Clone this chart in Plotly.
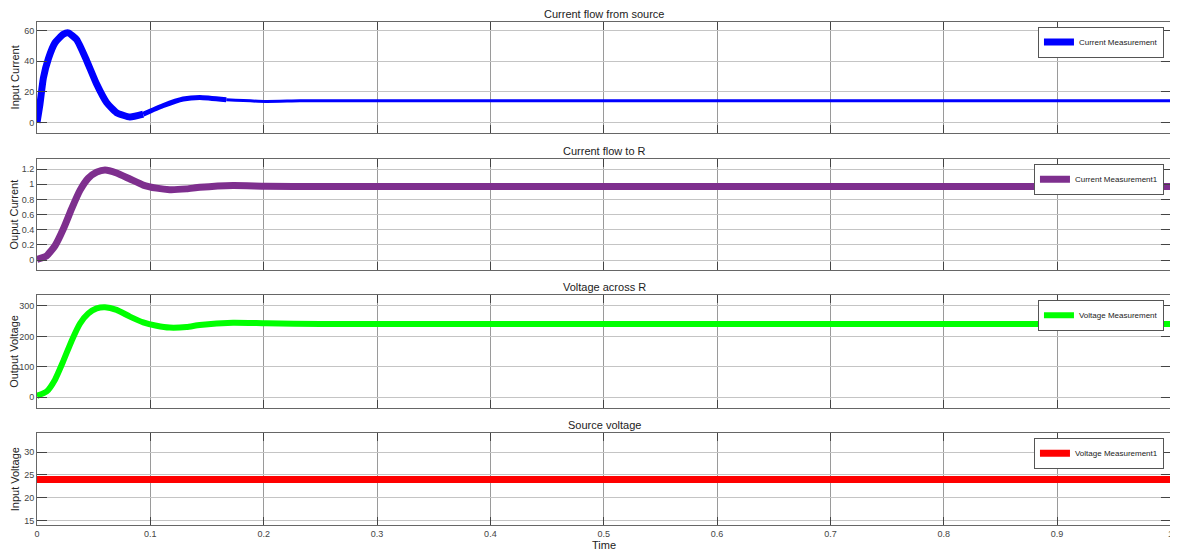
import plotly.graph_objects as go

# ---- data ----
t_src = [0, 0.0026, 0.0056, 0.01, 0.0159, 0.0232, 0.0276, 0.035, 0.0438, 0.0526, 0.0614,
         0.0702, 0.082, 0.0937, 0.111, 0.129, 0.1436, 0.167, 0.202, 0.232, 0.3, 0.4, 0.5,
         0.6, 0.7, 0.8, 0.9, 1.0]
i_src = [0, 12, 29, 41.5, 52, 57.5, 58.4, 54, 40.4, 25.1, 13.1, 6.5, 3.7, 5.5, 11, 15.4,
         16.4, 14.9, 13.8, 14.2, 14.3, 14.3, 14.3, 14.3, 14.3, 14.3, 14.3, 14.3]

t_out = [0, 0.0085, 0.0159, 0.0232, 0.0306, 0.0379, 0.0452, 0.0526, 0.06, 0.0702, 0.082,
         0.0937, 0.1055, 0.117, 0.132, 0.1436, 0.173, 0.202, 0.25, 0.3, 0.4, 0.5, 0.6,
         0.7, 0.8, 0.9, 1.0]
i_out = [0.01, 0.057, 0.19, 0.41, 0.68, 0.92, 1.08, 1.16, 1.19, 1.15, 1.07, 0.99, 0.95,
         0.93, 0.94, 0.96, 0.985, 0.975, 0.97, 0.97, 0.97, 0.97, 0.97, 0.97, 0.97, 0.97, 0.97]
v_out = [5, 19, 58, 119, 186, 242, 275, 292, 296, 287, 265, 246, 235, 229, 231, 237.5,
         245, 243, 241, 241, 241, 241, 241, 241, 241, 241, 241]

t_vin = [0, 0.25, 0.5, 0.75, 1.0]
v_in = [24, 24, 24, 24, 24]

titles = ["Current flow from source", "Current flow to R", "Voltage across R", "Source voltage"]
ytitles = ["Input Current", "Ouput Current", "Output Voltage", "Input Voltage"]
names = ["Current Measurement", "Current Measurement1", "Voltage Measurement", "Voltage Measurement1"]
x_ticks = [0, 0.1, 0.2, 0.3, 0.4, 0.5, 0.6, 0.7, 0.8, 0.9, 1]
x_ticklabels = ["0", "0.1", "0.2", "0.3", "0.4", "0.5", "0.6", "0.7", "0.8", "0.9", "1"]
y_ticks = [[0, 20, 40, 60], [0, 0.2, 0.4, 0.6, 0.8, 1, 1.2], [0, 100, 200, 300], [15, 20, 25, 30]]
y_ranges = [[-6.5, 65.5], [-0.13, 1.33], [-34, 335], [14.05, 34.1]]

domains = [[0.780, 1.0], [0.507, 0.727], [0.2332, 0.4567], [0.0, 0.1823]]

fig = go.Figure()

# blue trace: thick during the transient, tapering to thin steady state
s1, s2 = 13, 17
fig.add_trace(go.Scatter(x=t_src[:s1 + 1], y=i_src[:s1 + 1], mode="lines",
                         line=dict(color="#0000ff", width=7, shape="spline", smoothing=0.5),
                         name=names[0], legend="legend", xaxis="x", yaxis="y"))
fig.add_trace(go.Scatter(x=t_src[s1:s2 + 1], y=i_src[s1:s2 + 1], mode="lines",
                         line=dict(color="#0000ff", width=5, shape="spline", smoothing=0.5),
                         showlegend=False, xaxis="x", yaxis="y"))
fig.add_trace(go.Scatter(x=t_src[s2:], y=i_src[s2:], mode="lines",
                         line=dict(color="#0000ff", width=3, shape="spline", smoothing=0.5),
                         showlegend=False, xaxis="x", yaxis="y"))
fig.add_trace(go.Scatter(x=t_out, y=i_out, mode="lines",
                         line=dict(color="#7e2f8e", width=7, shape="spline", smoothing=0.5),
                         name=names[1], legend="legend2", xaxis="x2", yaxis="y2"))
fig.add_trace(go.Scatter(x=t_out, y=v_out, mode="lines",
                         line=dict(color="#00ff00", width=6, shape="spline", smoothing=0.5),
                         name=names[2], legend="legend3", xaxis="x3", yaxis="y3"))
fig.add_trace(go.Scatter(x=t_vin, y=v_in, mode="lines",
                         line=dict(color="#ff0000", width=7),
                         name=names[3], legend="legend4", xaxis="x4", yaxis="y4"))

# the page body has an 8px default margin, so the figure is sized to fit beside it
layout = dict(
    width=1170, height=546,
    margin=dict(l=29, r=7, t=14, b=29),
    paper_bgcolor="white", plot_bgcolor="white",
    font=dict(family="Liberation Sans, Arial, sans-serif", size=10, color="#333"),
    annotations=[],
)

for k in range(4):
    sfx = "" if k == 0 else str(k + 1)
    xa = dict(
        domain=[0, 1], range=[0, 1.0005], anchor="y" + sfx, automargin=False,
        tickvals=x_ticks, ticktext=x_ticklabels, showticklabels=(k == 3),
        showgrid=True, gridcolor="#9a9a9a", gridwidth=1, zeroline=False,
        showline=True, linecolor="#666", linewidth=1, mirror="ticks",
        ticks="inside", ticklen=8, tickcolor="#444",
        tickfont=dict(size=9, color="#444"),
    )
    if k == 3:
        xa["title"] = dict(text="Time", font=dict(size=11, color="#222"), standoff=1)
    layout["xaxis" + sfx] = xa
    layout["yaxis" + sfx] = dict(
        domain=domains[k], range=y_ranges[k], anchor="x" + sfx, automargin=False,
        tickvals=y_ticks[k], showgrid=True, gridcolor="#c4c4c4", gridwidth=1, zeroline=False,
        showline=True, linecolor="#666", linewidth=1, mirror="ticks",
        ticks="inside", ticklen=10, tickcolor="#444",
        tickfont=dict(size=9, color="#444"),
        title=dict(text=ytitles[k], font=dict(size=11, color="#222"), standoff=2),
    )
    layout["legend" + sfx] = dict(
        x=0.9938, xanchor="right", xref="paper",
        y=domains[k][1] - 0.009, yanchor="top", yref="paper",
        bgcolor="white", bordercolor="#555", borderwidth=1,
        font=dict(size=8, color="#222"), itemwidth=30, tracegroupgap=0)
    layout["annotations"].append(dict(
        text=titles[k], x=0.5, xref="paper", y=domains[k][1], yref="paper",
        xanchor="center", yanchor="bottom", yshift=0, showarrow=False,
        font=dict(size=11, color="#222")))

fig.update_layout(**layout)
fig.write_html("out.html")
